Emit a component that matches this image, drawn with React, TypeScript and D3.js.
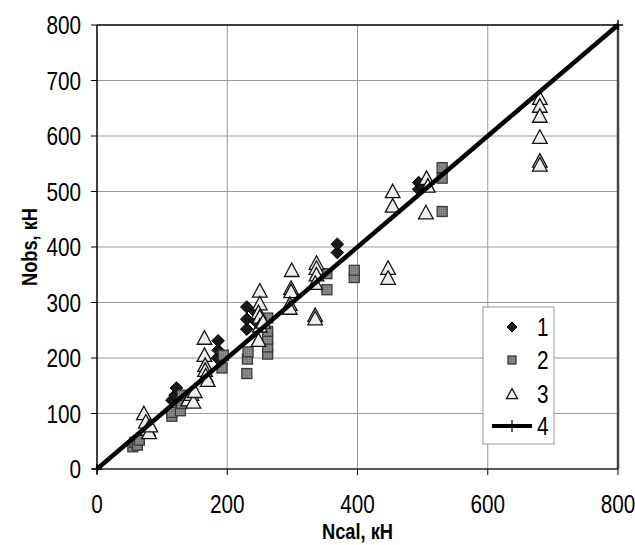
import React from "react";
import * as d3 from "d3";

const series1: [number, number][] = [
  [115, 124], [120, 133], [122, 146], [185, 200], [186, 214], [186, 231],
  [230, 252], [230, 270], [230, 292], [243, 267], [243, 283], [369, 390],
  [369, 405], [494, 504], [494, 516], [500, 510],
];
const series2: [number, number][] = [
  [55, 40], [58, 48], [62, 43], [65, 52], [115, 95], [115, 102], [128, 105],
  [130, 118], [131, 133], [192, 182], [194, 205], [230, 172], [231, 198],
  [232, 211], [262, 207], [262, 220], [262, 234], [262, 248], [262, 272],
  [353, 323], [353, 352], [395, 345], [395, 358], [530, 464], [530, 524], [530, 543],
];
const series3: [number, number][] = [
  [72, 100], [75, 85], [78, 72], [80, 66], [82, 78], [140, 125], [145, 135],
  [148, 121], [150, 140], [165, 236], [165, 205], [166, 187], [166, 178],
  [167, 168], [170, 160], [250, 321], [250, 298], [248, 282], [250, 274],
  [250, 258], [248, 232], [255, 265], [299, 358], [298, 326], [298, 320],
  [296, 297], [296, 290], [337, 371], [337, 362], [337, 350], [335, 335],
  [335, 277], [335, 271], [447, 362], [447, 344], [454, 500], [454, 474],
  [506, 524], [508, 510], [505, 462], [680, 668], [680, 654], [680, 636],
  [680, 598], [680, 555], [680, 548],
];
const series4: [number, number][] = [[0, 0], [800, 800]];
const xTicks = [0, 200, 400, 600, 800];
const yTicks = [0, 100, 200, 300, 400, 500, 600, 700, 800];
const legendLabels = ["1", "2", "3", "4"];

const FONT = "'Liberation Sans', Arial, sans-serif";
const SX = 0.83;

const diamond = (cx: number, cy: number, r = 6.3) =>
  `M${cx},${cy - r}L${cx + r},${cy}L${cx},${cy + r}L${cx - r},${cy}Z`;
const triangle = (cx: number, cy: number, s = 7.3) =>
  `M${cx},${cy - s}L${cx + s},${cy + s * 0.85}L${cx - s},${cy + s * 0.85}Z`;

function NText({ x, y, rot = 0, anchor = "start", size = 25, bold = false, children }: any) {
  return (
    <g transform={`translate(${x},${y}) rotate(${rot}) scale(${SX},1)`}>
      <text x={0} y={0} textAnchor={anchor} fontSize={size} fontWeight={bold ? "bold" : "normal"} fill="#000">
        {children}
      </text>
    </g>
  );
}

export default function App() {
  const x = d3.scaleLinear().domain([0, 800]).range([97, 618]);
  const y = d3.scaleLinear().domain([0, 800]).range([469, 25]);
  const line = d3.line<[number, number]>().x((d) => x(d[0])).y((d) => y(d[1]));

  const Sq = ({ cx, cy, s = 5 }: { cx: number; cy: number; s?: number }) => (
    <rect x={cx - s} y={cy - s} width={2 * s} height={2 * s} fill="url(#sqpat)" stroke="#3a3a3a" strokeWidth={1.3} />
  );

  const lx = 512;
  const ly = [327, 360, 394, 426];

  return (
    <svg width={635} height={545} style={{ position: "absolute", left: 0, top: 0, display: "block" }} fontFamily={FONT}>
      <defs>
        <pattern id="sqpat" width="2" height="2" patternUnits="userSpaceOnUse">
          <rect width="2" height="2" fill="#7a7a7a" />
          <rect width="1" height="1" fill="#9a9a9a" />
        </pattern>
      </defs>
      <rect width={635} height={545} fill="#fff" />
      {/* grid */}
      {xTicks.slice(1, -1).map((t) => (
        <line key={"gx" + t} x1={x(t)} x2={x(t)} y1={y(0)} y2={y(800)} stroke="#999" strokeWidth={1} />
      ))}
      {yTicks.slice(1, -1).map((t) => (
        <line key={"gy" + t} x1={x(0)} x2={x(800)} y1={y(t)} y2={y(t)} stroke="#999" strokeWidth={1} />
      ))}
      {/* frame */}
      <line x1={x(0)} x2={x(800)} y1={y(800)} y2={y(800)} stroke="#000" strokeWidth={1.5} />
      <line x1={x(800)} x2={x(800)} y1={y(800)} y2={y(0)} stroke="#444" strokeWidth={2.5} />
      <line x1={x(0)} x2={x(800)} y1={y(0)} y2={y(0)} stroke="#222" strokeWidth={1.5} />
      <line x1={x(0)} x2={x(0)} y1={y(0)} y2={y(800)} stroke="#000" strokeWidth={1.5} />
      {/* ticks */}
      {yTicks.map((t) => (
        <g key={"yt" + t}>
          <line x1={x(0) - 6} x2={x(0)} y1={y(t)} y2={y(t)} stroke="#000" strokeWidth={1} />
          <NText x={81} y={y(t) + 9} anchor="end">{t}</NText>
        </g>
      ))}
      {xTicks.map((t) => (
        <g key={"xt" + t}>
          <line x1={x(t)} x2={x(t)} y1={y(0)} y2={y(0) + 6} stroke="#000" strokeWidth={1} />
          <NText x={x(t)} y={y(0) + 44} anchor="middle">{t}</NText>
        </g>
      ))}
      {/* axis titles */}
      <NText x={(x(0) + x(800)) / 2} y={539} anchor="middle" size={22} bold>Ncal, кН</NText>
      <NText x={37} y={(y(0) + y(800)) / 2} rot={-90} anchor="middle" size={22} bold>Nobs, кН</NText>
      {/* series 1 */}
      {series1.map((d, i) => (
        <path key={"s1" + i} d={diamond(x(d[0]), y(d[1]))} fill="#1a1a1a" stroke="#000" strokeWidth={1} />
      ))}
      {/* series 2 */}
      {series2.map((d, i) => (
        <Sq key={"s2" + i} cx={x(d[0])} cy={y(d[1])} />
      ))}
      {/* series 3 */}
      {series3.map((d, i) => (
        <path key={"s3" + i} d={triangle(x(d[0]), y(d[1]))} fill="#eeeeee" stroke="#111" strokeWidth={1.3} />
      ))}
      {/* series 4 */}
      <path d={line(series4) || ""} fill="none" stroke="#000" strokeWidth={4.5} />
      {series4.map((d, i) => (
        <g key={"s4" + i}>
          <line x1={x(d[0]) - 5} x2={x(d[0]) + 5} y1={y(d[1])} y2={y(d[1])} stroke="#000" strokeWidth={1.5} />
          <line x1={x(d[0])} x2={x(d[0])} y1={y(d[1]) - 5} y2={y(d[1]) + 5} stroke="#000" strokeWidth={1.5} />
        </g>
      ))}
      {/* legend */}
      <rect x={483} y={307} width={71} height={137} fill="#fff" stroke="#999" strokeWidth={1} />
      <path d={diamond(lx, ly[0], 5)} fill="#1a1a1a" stroke="#000" />
      <Sq cx={lx} cy={ly[1]} s={4} />
      <path d={triangle(lx, ly[2], 5.5)} fill="#eeeeee" stroke="#111" strokeWidth={1.3} />
      <line x1={492} x2={532} y1={ly[3]} y2={ly[3]} stroke="#000" strokeWidth={4} />
      <line x1={lx} x2={lx} y1={ly[3] - 6} y2={ly[3] + 6} stroke="#000" strokeWidth={1.2} />
      {legendLabels.map((l, i) => (
        <NText key={"ll" + i} x={537} y={ly[i] + 9}>{l}</NText>
      ))}
    </svg>
  );
}
